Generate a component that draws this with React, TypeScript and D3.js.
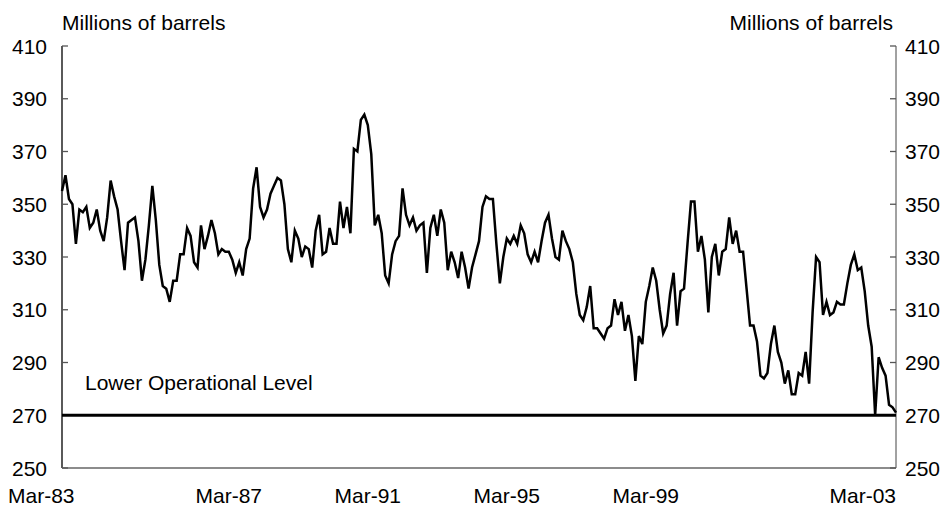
import React from "react";
import * as d3 from "d3";

// Monthly stocks, Mar-83 (index 0) to Mar-03 (index 240), millions of barrels
const stocks: number[] = [
  355, 361, 352, 350, 335, 348, 347, 349, 341, 343,
  348, 340, 336, 345, 359, 353, 348, 336, 325, 343,
  344, 345, 336, 321, 329, 342, 357, 344, 327, 319,
  318, 313, 321, 321, 331, 331, 341, 338, 328, 326,
  342, 333, 338, 344, 339, 331, 333, 332, 332, 329,
  324, 328, 323, 333, 337, 356, 364, 349, 345, 348,
  354, 357, 360, 359, 350, 333, 328, 340, 337, 330,
  334, 333, 326, 340, 346, 331, 332, 341, 335, 335,
  351, 341, 349, 339, 371, 370, 382, 384, 380, 369,
  342, 346, 339, 323, 320, 331, 336, 338, 356, 346,
  342, 345, 340, 342, 343, 324, 341, 346, 338, 348,
  343, 325, 332, 328, 322, 332, 326, 318, 326, 331,
  336, 349, 353, 352, 352, 335, 320, 330, 337, 335,
  338, 335, 342, 339, 331, 328, 332, 328, 336, 343,
  346, 337, 330, 329, 340, 336, 333, 328, 316, 308,
  306, 311, 319, 303, 303, 301, 299, 303, 304, 314,
  308, 313, 302, 308, 300, 283, 300, 297, 313, 319,
  326, 321, 310, 301, 304, 316, 324, 304, 317, 318,
  335, 351, 351, 332, 338, 329, 309, 330, 335, 323,
  332, 333, 345, 335, 340, 332, 332, 318, 304, 304,
  298, 285, 284, 286, 297, 304, 294, 290, 282, 287,
  278, 278, 286, 285, 294, 282, 309, 330, 328, 308,
  313, 308, 309, 313, 312, 312, 320, 327, 331, 325,
  326, 317, 304, 296, 270, 292, 288, 285, 274, 273,
  271,
];

const yTicks: number[] = [250, 270, 290, 310, 330, 350, 370, 390, 410];
const xTickMonths: number[] = [0, 48, 88, 128, 168, 240];
const xTickLabels: string[] = ["Mar-83", "Mar-87", "Mar-91", "Mar-95", "Mar-99", "Mar-03"];
const lowerLevel = 270;
const axisTitle = "Millions of barrels";
const levelLabel = "Lower Operational Level";

export default function App() {
  const W = 948, H = 508;
  const left = 62, right = 896, top = 46, bottom = 468;
  const x = d3.scaleLinear().domain([0, 240]).range([left, right]);
  const y = d3.scaleLinear().domain([250, 410]).range([bottom, top]);
  const line = d3.line<number>().x((_, i) => x(i)).y((d) => y(d));
  const font = "Liberation Sans, Arial, sans-serif";
  const fs = 21;

  return (
    <svg width={W} height={H} style={{ position: "absolute", left: 0, top: 0, background: "#fff" }} fontFamily={font}>
      <rect x={0} y={0} width={W} height={H} fill="#fff" />
      {/* axes */}
      <line x1={left} x2={left} y1={top} y2={bottom} stroke="#000" strokeWidth={1.3} />
      <line x1={right} x2={right} y1={top} y2={bottom} stroke="#444" strokeWidth={1} />
      <line x1={left} x2={right} y1={bottom} y2={bottom} stroke="#666" strokeWidth={1.3} />
      {yTicks.map((t) => (
        <g key={t}>
          <line x1={left} x2={left + 6} y1={y(t)} y2={y(t)} stroke="#555" strokeWidth={1.3} />
          <line x1={right - 6} x2={right} y1={y(t)} y2={y(t)} stroke="#555" strokeWidth={1.3} />
          <text x={47} y={y(t)} dy="0.36em" textAnchor="end" fontSize={fs}>{t}</text>
          <text x={905} y={y(t)} dy="0.36em" textAnchor="start" fontSize={fs}>{t}</text>
        </g>
      ))}
      {xTickMonths.map((m, i) => {
        const last = i === xTickMonths.length - 1;
        return (
          <text
            key={m}
            x={i === 0 ? 8 : x(m)}
            y={503}
            textAnchor={i === 0 ? "start" : last ? "end" : "middle"}
            fontSize={fs}
          >
            {xTickLabels[i]}
          </text>
        );
      })}
      <text x={62} y={30} fontSize={fs}>{axisTitle}</text>
      <text x={893} y={30} fontSize={fs} textAnchor="end">{axisTitle}</text>
      {/* lower operational level */}
      <line x1={left} x2={right} y1={y(lowerLevel)} y2={y(lowerLevel)} stroke="#000" strokeWidth={3} />
      <text x={85} y={390} fontSize={fs}>{levelLabel}</text>
      {/* data */}
      <path d={line(stocks) || ""} fill="none" stroke="#000" strokeWidth={2.5} strokeLinejoin="miter" />
    </svg>
  );
}
